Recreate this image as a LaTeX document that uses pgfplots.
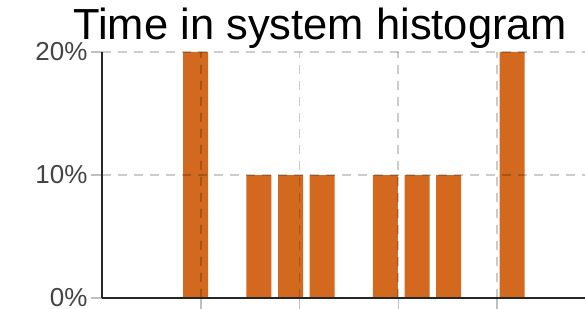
\documentclass[border=0pt]{standalone}
\usepackage{fontspec}
\setmainfont{Liberation Sans}
\usepackage{pgfplots}
\pgfplotsset{compat=1.18}
\definecolor{barc}{RGB}{210,105,30}
\definecolor{labc}{RGB}{68,68,68}
\begin{document}
\begin{tikzpicture}
\begin{axis}[
  at={(102pt,10pt)}, anchor=south west,
  scale only axis, width=483pt, height=246pt,
  xmin=0, xmax=4.891, ymin=0, ymax=20,
  axis x line*=bottom, axis y line*=left,
  axis line style={line width=2pt, color=black!85},
  axis on top,
  xtick={1,2,3,4}, xticklabels={},
  ytick={0,10,20}, yticklabels={0\%,10\%,20\%},
  tick align=outside, major tick length=11pt,
  tick style={line width=1.5pt, color=black!25},
  grid=major,
  major grid style={line width=1.8pt, color=black, opacity=0.2, dash pattern=on 9pt off 7pt},
  yticklabel style={font=\fontsize{26}{30}\selectfont, text=labc},
  title={Time in system histogram},
  title style={font=\fontsize{43.5}{50}\selectfont, at={(axis description cs:0.452,1)}, anchor=base, yshift=6pt},
]
\addplot[ybar, bar width=25pt, fill=barc, draw=none] coordinates {
  (0.947,20) (1.588,10) (1.909,10) (2.229,10) (2.870,10) (3.191,10) (3.511,10) (4.152,20)
};
\end{axis}
\pgfresetboundingbox
\path[use as bounding box] (0,0) rectangle (585pt,308pt);
\end{tikzpicture}
\end{document}
